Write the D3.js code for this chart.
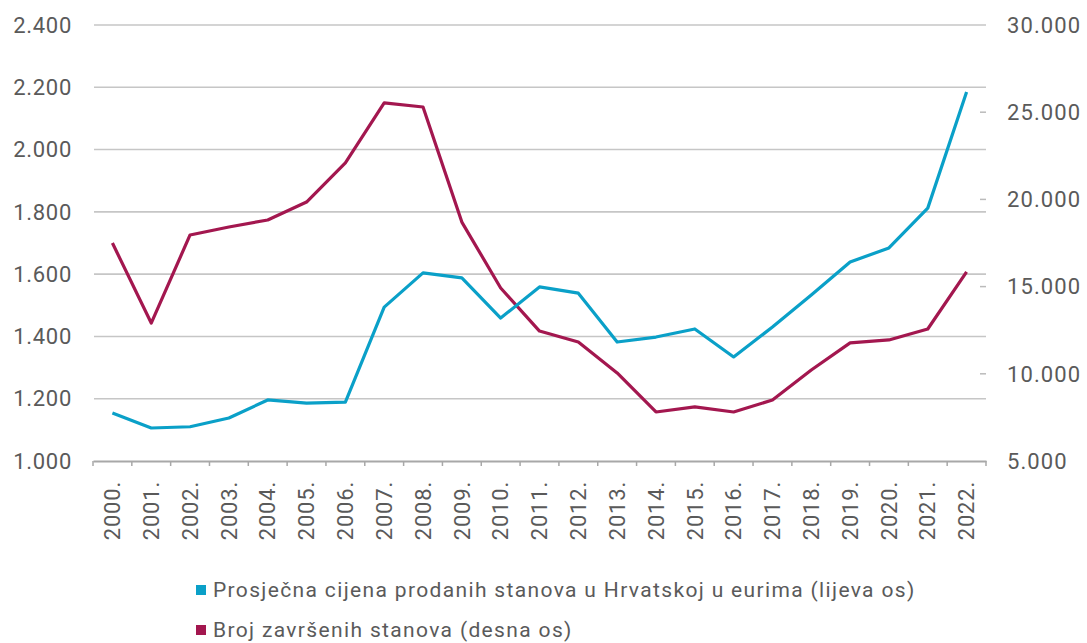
<!DOCTYPE html>
<html>
<head>
<meta charset="utf-8">
<script src="https://cdn.jsdelivr.net/npm/d3@7"></script>
<style>
  body { margin: 0; background: #fff; }
  text { font-family: "Roboto", "Liberation Sans", sans-serif; fill: #5a5a5a; }
</style>
</head>
<body>
<script>
// data
var years = ["2000.","2001.","2002.","2003.","2004.","2005.","2006.","2007.","2008.","2009.","2010.",
  "2011.","2012.","2013.","2014.","2015.","2016.","2017.","2018.","2019.","2020.","2021.","2022."];
var prices = [1154,1106,1110,1138,1196,1186,1189,1494,1604,1588,1459,1559,1539,1382,1398,1424,1334,1430,1533,1639,1684,1812,2185];
var finished = [17500,12910,17960,18420,18820,19850,22090,25530,25300,18700,14920,12450,11820,10050,7810,8100,7810,8500,10220,11770,11940,12570,15840];
var leftTicks = [1000,1200,1400,1600,1800,2000,2200,2400];
var rightTicks = [5000,10000,15000,20000,25000,30000];
var legendLabels = ["Prosječna cijena prodanih stanova u Hrvatskoj u eurima (lijeva os)", "Broj završenih stanova (desna os)"];
var colors = ["#0aa0c8", "#a3174f"];

var W = 1087, H = 643;
var margin = {top: 25, right: 101, bottom: 182, left: 93};

var svg = d3.select("body").append("svg")
  .attr("width", W).attr("height", H);

var x = d3.scaleBand().domain(years).range([margin.left, W - margin.right]);
var yL = d3.scaleLinear().domain([1000, 2400]).range([H - margin.bottom, margin.top]);
var yR = d3.scaleLinear().domain([5000, 30000]).range([H - margin.bottom, margin.top]);

var fmt = function(d){ return d3.format(",")(d).replace(/,/g, "."); };

// gridlines (left axis)
svg.append("g")
  .selectAll("line")
  .data(leftTicks.slice(1))
  .enter().append("line")
  .attr("x1", margin.left + 1).attr("x2", W - margin.right)
  .attr("y1", function(d){ return yL(d); }).attr("y2", function(d){ return yL(d); })
  .attr("stroke", "#c6c6c6").attr("stroke-width", 1.6);

// left labels
svg.append("g")
  .selectAll("text")
  .data(leftTicks)
  .enter().append("text")
  .attr("x", 72)
  .attr("y", function(d){ return yL(d); })
  .attr("dy", "0.35em")
  .attr("text-anchor", "end")
  .style("font-size", "22px")
  .style("letter-spacing", "0.7px")
  .text(fmt);

// right labels + small inner ticks
svg.append("g")
  .selectAll("text")
  .data(rightTicks)
  .enter().append("text")
  .attr("x", 1007)
  .attr("y", function(d){ return yR(d); })
  .attr("dy", "0.35em")
  .attr("text-anchor", "start")
  .style("font-size", "22px")
  .style("letter-spacing", "1.1px")
  .text(fmt);
svg.append("g")
  .selectAll("line")
  .data(rightTicks.slice(1, -1))
  .enter().append("line")
  .attr("x1", W - margin.right - 6).attr("x2", W - margin.right)
  .attr("y1", function(d){ return yR(d); }).attr("y2", function(d){ return yR(d); })
  .attr("stroke", "#bbb").attr("stroke-width", 1.5);

// x axis
var xAxis = d3.axisBottom(x).tickSize(0).tickFormat("");
var gx = svg.append("g")
  .attr("transform", "translate(0," + (H - margin.bottom) + ")")
  .call(xAxis);
gx.select(".domain").attr("stroke", "#a8a8a8").attr("stroke-width", 2);
gx.selectAll(".bound")
  .data(d3.range(years.length + 1))
  .enter().append("line")
  .attr("class", "bound")
  .attr("x1", function(i){ return margin.left + i * x.step(); })
  .attr("x2", function(i){ return margin.left + i * x.step(); })
  .attr("y1", 0).attr("y2", 5)
  .attr("stroke", "#a8a8a8").attr("stroke-width", 1.5);

svg.append("g")
  .selectAll("text")
  .data(years)
  .enter().append("text")
  .attr("transform", function(d){
    return "translate(" + (x(d) + x.bandwidth() / 2) + "," + (H - margin.bottom + 20) + ") rotate(-90)";
  })
  .attr("dy", "0.35em")
  .attr("text-anchor", "end")
  .style("font-size", "22px")
  .style("letter-spacing", "0.8px")
  .text(function(d){ return d; });

// lines
var lineL = d3.line()
  .x(function(d, i){ return x(years[i]) + x.bandwidth() / 2; })
  .y(function(d){ return yL(d); });
var lineR = d3.line()
  .x(function(d, i){ return x(years[i]) + x.bandwidth() / 2; })
  .y(function(d){ return yR(d); });

svg.append("path").datum(finished)
  .attr("d", lineR)
  .attr("fill", "none").attr("stroke", colors[1]).attr("stroke-width", 3.2)
  .attr("stroke-linejoin", "round");
svg.append("path").datum(prices)
  .attr("d", lineL)
  .attr("fill", "none").attr("stroke", colors[0]).attr("stroke-width", 3.2)
  .attr("stroke-linejoin", "round");

// legend
var leg = svg.append("g")
  .selectAll("g")
  .data(legendLabels)
  .enter().append("g")
  .attr("transform", function(d, i){ return "translate(196," + (590 + i * 40) + ")"; });
leg.append("rect")
  .attr("x", 0).attr("y", -5).attr("width", 10).attr("height", 10)
  .attr("fill", function(d, i){ return colors[i]; });
leg.append("text")
  .attr("x", 17).attr("y", 0).attr("dy", "0.35em")
  .style("font-size", "21px")
  .style("letter-spacing", "1.35px")
  .text(function(d){ return d; });
</script>
</body>
</html>
